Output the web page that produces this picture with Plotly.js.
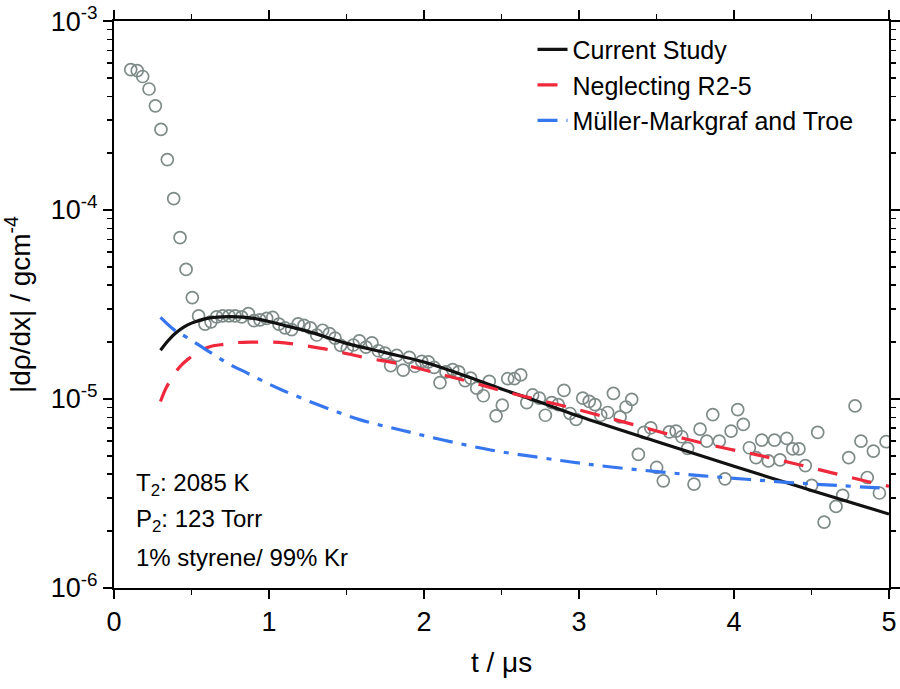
<!DOCTYPE html>
<html>
<head>
<meta charset="utf-8">
<script src="https://cdn.plot.ly/plotly-3.0.1.min.js"></script>
<style>html,body{margin:0;padding:0;background:#fff;}#chart{width:900px;height:689px;}</style>
</head>
<body>
<div id="chart"></div>
<script>
// Experimental data (t in microseconds, |drho/dx| in g cm^-4)
const expT = [0.108,0.150,0.185,0.226,0.267,0.303,0.344,0.385,0.426,0.465,0.505,0.546,0.587,0.626,0.662,0.701,0.742,0.781,0.824,0.867,0.903,0.942,0.985,1.024,1.064,1.103,1.146,1.188,1.226,1.267,1.308,1.346,1.390,1.426,1.462,1.505,1.544,1.583,1.626,1.664,1.705,1.748,1.785,1.824,1.866,1.905,1.942,1.985,2.028,2.065,2.103,2.142,2.185,2.224,2.265,2.301,2.340,2.383,2.421,2.465,2.505,2.540,2.583,2.624,2.663,2.701,2.744,2.783,2.824,2.866,2.903,2.942,2.981,3.024,3.066,3.103,3.140,3.185,3.222,3.265,3.303,3.340,3.383,3.419,3.463,3.501,3.544,3.583,3.626,3.663,3.701,3.742,3.781,3.824,3.863,3.905,3.942,3.981,4.024,4.060,4.099,4.142,4.179,4.222,4.261,4.297,4.340,4.379,4.419,4.460,4.501,4.540,4.581,4.658,4.701,4.740,4.781,4.819,4.860,4.899,4.938,4.981];
const expY = [5.54e-4,5.47e-4,5.09e-4,4.37e-4,3.56e-4,2.67e-4,1.85e-4,1.15e-4,7.15e-5,4.85e-5,3.44e-5,2.75e-5,2.49e-5,2.56e-5,2.72e-5,2.75e-5,2.75e-5,2.75e-5,2.72e-5,2.83e-5,2.60e-5,2.62e-5,2.67e-5,2.70e-5,2.49e-5,2.38e-5,2.33e-5,2.50e-5,2.45e-5,2.38e-5,2.18e-5,2.31e-5,2.22e-5,2.10e-5,1.92e-5,1.85e-5,1.93e-5,2.03e-5,1.88e-5,1.98e-5,1.80e-5,1.75e-5,1.50e-5,1.70e-5,1.42e-5,1.66e-5,1.49e-5,1.58e-5,1.57e-5,1.47e-5,1.22e-5,1.39e-5,1.43e-5,1.39e-5,1.25e-5,1.29e-5,1.14e-5,1.04e-5,1.24e-5,8.14e-6,9.27e-6,1.28e-5,1.28e-5,1.34e-5,9.57e-6,1.05e-5,1.01e-5,8.20e-6,9.57e-6,9.33e-6,1.11e-5,8.38e-6,7.80e-6,1.01e-5,9.72e-6,9.33e-6,8.20e-6,8.48e-6,1.07e-5,8.04e-6,9.07e-6,9.95e-6,5.09e-6,6.65e-6,7.04e-6,4.34e-6,3.69e-6,6.70e-6,6.76e-6,6.31e-6,5.48e-6,3.54e-6,6.92e-6,5.98e-6,8.27e-6,5.98e-6,3.78e-6,6.76e-6,8.79e-6,7.33e-6,5.52e-6,4.89e-6,6.06e-6,4.70e-6,6.06e-6,4.76e-6,6.18e-6,5.44e-6,5.44e-6,4.44e-6,3.49e-6,6.65e-6,2.23e-6,2.70e-6,3.09e-6,4.89e-6,9.19e-6,5.98e-6,3.84e-6,5.30e-6,3.18e-6,5.94e-6];

// Current Study model
const curT = [0.30,0.35,0.40,0.45,0.50,0.60,0.70,0.80,0.90,1.00,1.10,1.25,1.50,1.75,2.00,2.25,2.50,2.75,3.00,3.50,4.00,4.50,5.00];
const curY = [1.81e-5,2.04e-5,2.24e-5,2.40e-5,2.52e-5,2.67e-5,2.72e-5,2.72e-5,2.67e-5,2.57e-5,2.45e-5,2.28e-5,1.97e-5,1.76e-5,1.57e-5,1.34e-5,1.13e-5,9.6e-6,8.1e-6,5.95e-6,4.4e-6,3.28e-6,2.46e-6];

// Neglecting R2-5
const negT = [0.30,0.34,0.415,0.48,0.608,0.716,0.80,0.90,1.00,1.10,1.36,1.61,1.85,2.08,2.30,2.53,2.75,3.00,3.22,3.46,3.69,3.93,4.15,4.38,4.62,4.86,5.00];
const negY = [9.7e-6,1.16e-5,1.45e-5,1.63e-5,1.88e-5,1.95e-5,1.99e-5,2.0e-5,2.0e-5,1.98e-5,1.84e-5,1.66e-5,1.53e-5,1.37e-5,1.23e-5,1.09e-5,9.85e-6,8.75e-6,7.82e-6,6.92e-6,6.14e-6,5.52e-6,5.06e-6,4.57e-6,4.09e-6,3.66e-6,3.45e-6];

// Mueller-Markgraf and Troe
const mmtT = [0.30,0.394,0.469,0.60,0.731,0.86,1.00,1.09,1.35,1.59,1.85,2.13,2.43,2.71,2.95,3.18,3.50,3.80,4.08,4.38,4.68,5.00];
const mmtY = [2.70e-5,2.30e-5,2.12e-5,1.81e-5,1.55e-5,1.37e-5,1.20e-5,1.11e-5,9.1e-6,7.75e-6,6.85e-6,6.05e-6,5.37e-6,4.95e-6,4.64e-6,4.39e-6,4.13e-6,3.92e-6,3.76e-6,3.60e-6,3.48e-6,3.36e-6];

const legendNames = ['Current Study','Neglecting R2-5','Müller-Markgraf and Troe'];
const yTickVals = [1e-6,1e-5,1e-4,1e-3];
const yTickText = ['10<sup>-6</sup>','10<sup>-5</sup>','10<sup>-4</sup>','10<sup>-3</sup>'];
const yMinorMult = [2,3,4,5,6,7,8,9];
const yMinorDecades = [1e-6,1e-5,1e-4];
const xTickVals = [0,1,2,3,4,5];
const xMinorVals = [0.5,1.5,2.5,3.5,4.5];

const yMinorVals = [];
yMinorDecades.forEach(d => yMinorMult.forEach(m => yMinorVals.push(m*d)));

const FONT = 'Liberation Sans, Arial, sans-serif';
const Y_RANGE = [-6.0004,-2.9996];

const traces = [
  // invisible copy on the minor-tick axes so they get drawn
  {x: expT, y: expY, type:'scatter', mode:'markers', xaxis:'x2', yaxis:'y2', showlegend:false,
   marker:{size:1, opacity:0}, hoverinfo:'skip'},
  {x: expT, y: expY, type:'scatter', mode:'markers', showlegend:false,
   marker:{symbol:'circle-open', size:12, color:'#7f8b89', line:{width:1.7, color:'#7f8b89'}}},
  {x: curT, y: curY, type:'scatter', mode:'lines', name: legendNames[0],
   line:{color:'#111111', width:3.2, shape:'spline'}},
  {x: negT, y: negY, type:'scatter', mode:'lines', name: legendNames[1],
   line:{color:'#f0283c', width:3.2, shape:'spline', dash:'20px,15px'}},
  {x: mmtT, y: mmtY, type:'scatter', mode:'lines', name: legendNames[2],
   line:{color:'#3676ee', width:3.2, shape:'spline', dash:'20px,9px,5px,9px'}}
];

const layout = {
  width:900, height:689,
  margin:{l:114, r:11, t:21, b:101},
  paper_bgcolor:'#fff', plot_bgcolor:'#fff',
  font:{family:FONT, color:'#000', size:24},
  showlegend:true,
  legend:{x:0.54, y:0.99, xanchor:'left', yanchor:'top', bgcolor:'rgba(0,0,0,0)',
          font:{family:FONT, size:25, color:'#000'}, tracegroupgap:0},
  xaxis:{range:[0,5], tickmode:'array', tickvals:xTickVals, ticks:'outside', ticklen:9, tickwidth:1.5,
         tickcolor:'#000', showline:true, linewidth:2, linecolor:'#000', mirror:'ticks', showgrid:false, zeroline:false,
         tickfont:{family:FONT, size:27},
         title:{text:'t / μs', font:{family:FONT, size:28}, standoff:16}},
  xaxis2:{overlaying:'x', anchor:'y', range:[0,5], tickmode:'array', tickvals:xMinorVals, ticks:'outside', ticklen:6, tickwidth:1.5,
          tickcolor:'#000', showticklabels:false, showline:false, mirror:'ticks', showgrid:false, zeroline:false, side:'bottom'},
  yaxis:{type:'log', range:Y_RANGE, tickmode:'array', tickvals:yTickVals, ticktext:yTickText,
         ticks:'outside', ticklen:9, tickwidth:1.5, tickcolor:'#000', ticklabeloverflow:'allow',
         showline:true, linewidth:2, linecolor:'#000', mirror:'ticks', showgrid:false, zeroline:false,
         tickfont:{family:FONT, size:27},
         title:{text:'|dρ/dx| / gcm<sup>-4</sup>', font:{family:FONT, size:28}, standoff:12}},
  yaxis2:{overlaying:'y', anchor:'x', type:'log', range:Y_RANGE, tickmode:'array', tickvals:yMinorVals,
          ticks:'outside', ticklen:6, tickwidth:1.5, tickcolor:'#000', showticklabels:false,
          showline:false, mirror:'ticks', showgrid:false, zeroline:false, side:'left'},
  annotations:[
    {xref:'paper', yref:'paper', x:0.026, y:0.182, xanchor:'left', yanchor:'middle', showarrow:false,
     text:'T<sub>2</sub>: 2085 K', font:{family:FONT, size:24}},
    {xref:'paper', yref:'paper', x:0.026, y:0.119, xanchor:'left', yanchor:'middle', showarrow:false,
     text:'P<sub>2</sub>: 123 Torr', font:{family:FONT, size:24}},
    {xref:'paper', yref:'paper', x:0.026, y:0.054, xanchor:'left', yanchor:'middle', showarrow:false,
     text:'1% styrene/ 99% Kr', font:{family:FONT, size:24}}
  ]
};

Plotly.newPlot('chart', traces, layout, {staticPlot:true, displayModeBar:false});
</script>
</body>
</html>
